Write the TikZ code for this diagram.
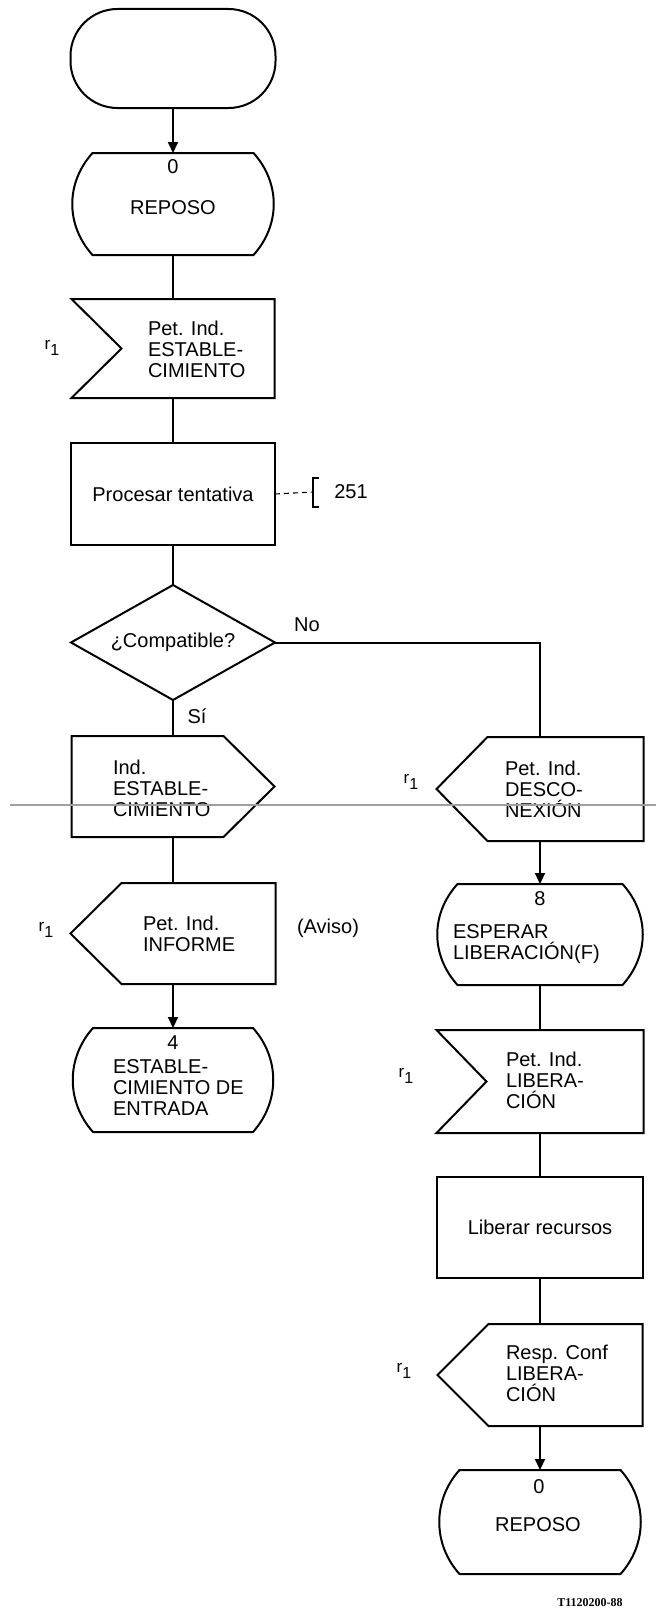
\documentclass[tikz,border=0pt]{standalone}
\usepackage{fontspec}
\setmainfont{Liberation Sans}
\newfontfamily\figserif{Liberation Serif}
\usetikzlibrary{arrows.meta,calc}

\newcommand\mainsz{\fontsize{20pt}{21pt}\selectfont}

% outlines drawn around placeholder nodes
\newcommand\stadiumshape[1]{%
  \draw[ln,rounded corners=47pt] (#1.north west) rectangle (#1.south east);}
\newcommand\stateshape[1]{%
  \draw[ln] ($(#1.north west)+(21,0)$) -- ($(#1.north east)+(-21,0)$)
    .. controls ($(#1.north east)+(6,30)$) and ($(#1.south east)+(6,-30)$) .. ($(#1.south east)+(-21,0)$)
    -- ($(#1.south west)+(21,0)$)
    .. controls ($(#1.south west)+(-6,-30)$) and ($(#1.north west)+(-6,30)$) .. cycle;}
\newcommand\inputshape[1]{%
  \draw[ln] (#1.north west) -- (#1.north east) -- (#1.south east) -- (#1.south west)
    -- ($(#1.west)+(50,0)$) -- cycle;}
\newcommand\outrightshape[1]{%
  \draw[ln] (#1.north west) -- ($(#1.north east)+(-51,0)$) -- (#1.east)
    -- ($(#1.south east)+(-51,0)$) -- (#1.south west) -- cycle;}
\newcommand\outleftshape[1]{%
  \draw[ln] ($(#1.north west)+(51,0)$) -- (#1.north east) -- (#1.south east)
    -- ($(#1.south west)+(51,0)$) -- (#1.west) -- cycle;}
\newcommand\diamondshape[1]{%
  \draw[ln] (#1.north) -- (#1.east) -- (#1.south) -- (#1.west) -- cycle;}
\newcommand\rsig{{\fontsize{17pt}{17pt}\selectfont r}\raisebox{-6pt}{\fontsize{16pt}{16pt}\selectfont 1}}

\begin{document}
\begin{tikzpicture}[x=1pt,y=-1pt,
  ln/.style={line width=2pt, line join=miter, line cap=butt},
  arr/.style={ln, -{Triangle[length=11pt,width=10pt]}},
  holder/.style={draw=none, inner sep=0pt, outer sep=0pt, font=\mainsz},
  procbox/.style={holder, draw, line width=2pt},
  txt/.style={inner sep=0pt, outer sep=0pt, font=\mainsz, align=left},
  rlab/.style={inner sep=0pt, outer sep=0pt},
]
% page
\fill[white] (0,0) rectangle (656,1611);
\useasboundingbox (0,0) rectangle (656,1611);

% ---------- left column ----------
\node[holder, minimum width=205pt, minimum height=99pt]  (term)  at (173,58.5)  {};
\node[holder, minimum width=203pt, minimum height=102pt] (s0)    at (173,204)   {};
\node[holder, minimum width=203pt, minimum height=99pt]  (in1)   at (173,348.5) {};
\node[procbox, minimum width=204pt, minimum height=102pt] (proc1) at (173,494) {Procesar tentativa};
\node[holder, minimum width=204pt, minimum height=115pt] (dec)   at (173,642.5) {¿Compatible?};
\node[holder, minimum width=203pt, minimum height=101pt] (out1)  at (173,786.5) {};
\node[holder, minimum width=205pt, minimum height=101pt] (inf)   at (173,933.5) {};
\node[holder, minimum width=202pt, minimum height=104pt] (s4)    at (173,1080)  {};

% ---------- right column ----------
\node[holder, minimum width=207pt, minimum height=104pt] (dis)   at (540,789)    {};
\node[holder, minimum width=207pt, minimum height=101pt] (s8)    at (540,934.5)  {};
\node[holder, minimum width=207pt, minimum height=103pt] (lib)   at (540,1081.5) {};
\node[procbox, minimum width=206pt, minimum height=101pt] (proc2) at (540,1227.5) {Liberar recursos};
\node[holder, minimum width=205pt, minimum height=102pt] (resp)  at (540,1375)   {};
\node[holder, minimum width=203pt, minimum height=104pt] (s0b)   at (540,1522)   {};

% outlines
\stadiumshape{term}
\stateshape{s0}
\inputshape{in1}
\diamondshape{dec}
\outrightshape{out1}
\outleftshape{inf}
\stateshape{s4}
\outleftshape{dis}
\stateshape{s8}
\inputshape{lib}
\outleftshape{resp}
\stateshape{s0b}

% texts
\node[txt] (s0n)   at (173,167) {0};
\node[txt] (s0t)   at (173,208) {REPOSO};
\node[rlab] (in1r) at (52,348) {\rsig};
\node[txt, anchor=west] (in1t) at (148,349) {Pet. Ind.\\ESTABLE-\\CIMIENTO};
\node[txt] (no)    at (307,625) {No};
\node[txt] (si)    at (197,716) {Sí};
\node[txt, anchor=west] (out1t) at (113,788) {Ind.\\ESTABLE-\\CIMIENTO};
\node[rlab] (infr) at (46,930) {\rsig};
\node[txt, anchor=west] (inft) at (143,934) {Pet. Ind.\\INFORME};
\node[txt] (aviso) at (328,928) {(Aviso)};
\node[txt] (s4n)   at (173,1043) {4};
\node[txt, anchor=west] (s4t) at (113,1088) {ESTABLE-\\CIMIENTO DE\\ENTRADA};

\node[rlab] (disr) at (411,782) {\rsig};
\node[txt, anchor=west] (dist) at (505,789) {Pet. Ind.\\DESCO-\\NEXIÓN};
\node[txt] (s8n)   at (540,899) {8};
\node[txt, anchor=west] (s8t) at (453,944) {ESPERAR\\LIBERACIÓN(F)};
\node[rlab] (libr) at (406,1076) {\rsig};
\node[txt, anchor=west] (libt) at (506,1080) {Pet. Ind.\\LIBERA-\\CIÓN};
\node[rlab] (respr) at (404,1371) {\rsig};
\node[txt, anchor=west] (respt) at (506,1373) {Resp. Conf\\LIBERA-\\CIÓN};
\node[txt] (s0bn)  at (539,1487) {0};
\node[txt] (s0bt)  at (538,1525) {REPOSO};

% reference to procedure 251
\coordinate (br) at (313,492);
\draw[line width=1.1pt, dash pattern=on 5pt off 4pt] (proc1.east) -- (br);
\draw[ln] ($(br)+(6,-14)$) -- ($(br)+(0,-14)$) -- ($(br)+(0,15)$) -- ($(br)+(6,15)$);
\node[txt] (ref) at (351,492) {251};

% connectors
\draw[arr] (term.south) -- (s0.north);
\draw[ln] (s0.south) -- (in1.north);
\draw[ln] (in1.south) -- (proc1.north);
\draw[ln] (proc1.south) -- (dec.north);
\draw[ln] (dec.south) -- (out1.north);
\draw[ln] (out1.south) -- (inf.north);
\draw[arr] (inf.south) -- (s4.north);
\draw[ln] (dec.east) -| (dis.north);
\draw[arr] (dis.south) -- (s8.north);
\draw[ln] (s8.south) -- (lib.north);
\draw[ln] (lib.south) -- (proc2.north);
\draw[ln] (proc2.south) -- (resp.north);
\draw[arr] (resp.south) -- (s0b.north);

% faint horizontal rule across the sheet
\coordinate (ruleA) at (10,805);
\coordinate (ruleB) at (656,805);
\draw[gray!75, line width=1.1pt] (ruleA) -- (ruleB);

\node[inner sep=0pt, font=\figserif\bfseries\fontsize{12pt}{12pt}\selectfont] (figref) at (590,1603) {T1120200-88};
\end{tikzpicture}
\end{document}
